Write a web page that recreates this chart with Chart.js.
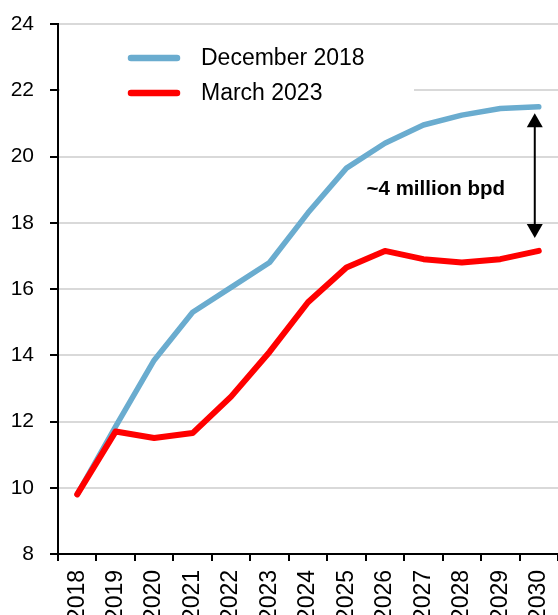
<!DOCTYPE html>
<html>
<head>
<meta charset="utf-8">
<script src="https://cdn.jsdelivr.net/npm/chart.js@4"></script>
<style>
  html, body { margin: 0; padding: 0; background: #fff; }
  #box { width: 558px; height: 615px; position: relative; }
</style>
</head>
<body>
<div id="box"><canvas id="chart"></canvas></div>
<script>
// years on the x axis
const years = ['2018', '2019', '2020', '2021', '2022', '2023', '2024',
               '2025', '2026', '2027', '2028', '2029', '2030'];

// forecast made in December 2018
const december2018 = [9.8, 11.85, 13.85, 15.3, 16.05, 16.8, 18.3,
                      19.65, 20.4, 20.95, 21.25, 21.45, 21.5];

// forecast made in March 2023
const march2023 = [9.8, 11.7, 11.5, 11.65, 12.75, 14.1, 15.6,
                   16.65, 17.15, 16.9, 16.8, 16.9, 17.15];

const yMin = 8, yMax = 24, yStep = 2;
const gapLabel = '~4 million bpd';

const FONT = "'Liberation Sans', Arial, sans-serif";

// legend drawn inside the plot, on a white patch over the grid
const insideLegend = {
  id: 'insideLegend',
  afterDraw(chart) {
    const ctx = chart.ctx;
    ctx.save();
    ctx.fillStyle = '#fff';
    ctx.fillRect(60, 40, 354, 70);
    chart.data.datasets.forEach((ds, i) => {
      const y = 58 + i * 35;
      ctx.strokeStyle = ds.borderColor;
      ctx.lineWidth = 6.5;
      ctx.lineCap = 'round';
      ctx.beginPath();
      ctx.moveTo(131, y);
      ctx.lineTo(177, y);
      ctx.stroke();
      ctx.fillStyle = '#000';
      ctx.font = '23px ' + FONT;
      ctx.textBaseline = 'middle';
      ctx.textAlign = 'left';
      ctx.fillText(ds.label, 201, y + 1);
    });
    ctx.restore();
  }
};

// double arrow showing the gap between the two forecasts in 2030
const gapArrow = {
  id: 'gapArrow',
  afterDatasetsDraw(chart) {
    const ctx = chart.ctx;
    const xs = chart.scales.x, ys = chart.scales.y;
    const last = years.length - 1;
    const x = xs.getPixelForValue(last) - 4;
    const top = ys.getPixelForValue(december2018[last]) + 6.5;
    const bot = ys.getPixelForValue(march2023[last]) - 13;
    const hw = 8, hh = 14;
    ctx.save();
    ctx.strokeStyle = '#000';
    ctx.fillStyle = '#000';
    ctx.lineWidth = 2;
    ctx.beginPath();
    ctx.moveTo(x, top + hh - 1);
    ctx.lineTo(x, bot - hh + 1);
    ctx.stroke();
    ctx.beginPath();
    ctx.moveTo(x, top);
    ctx.lineTo(x - hw, top + hh);
    ctx.lineTo(x + hw, top + hh);
    ctx.closePath();
    ctx.fill();
    ctx.beginPath();
    ctx.moveTo(x, bot);
    ctx.lineTo(x - hw, bot - hh);
    ctx.lineTo(x + hw, bot - hh);
    ctx.closePath();
    ctx.fill();

    ctx.font = 'bold 20.5px ' + FONT;
    ctx.textAlign = 'center';
    ctx.textBaseline = 'middle';
    ctx.fillText(gapLabel, x - 99, ys.getPixelForValue(19));
    ctx.restore();
  }
};

new Chart(document.getElementById('chart'), {
  type: 'line',
  data: {
    labels: years,
    datasets: [{
      label: 'December 2018',
      data: december2018,
      borderColor: '#6aaccf',
      borderWidth: 5.5,
      order: 1
    }, {
      label: 'March 2023',
      data: march2023,
      borderColor: '#ff0000',
      borderWidth: 6,
      order: 0
    }]
  },
  options: {
    responsive: true,
    maintainAspectRatio: false,
    animation: false,
    layout: { padding: { top: 24, left: 0, right: 0, bottom: 0 } },
    elements: {
      point: { radius: 0, hoverRadius: 0 },
      line: { tension: 0, borderCapStyle: 'round', borderJoinStyle: 'round' }
    },
    plugins: {
      legend: { display: false },
      tooltip: { enabled: false }
    },
    scales: {
      x: {
        offset: true,
        grid: {
          offset: true,
          drawOnChartArea: false,
          drawTicks: true,
          tickLength: 7,
          color: '#000',
          lineWidth: 2
        },
        border: { color: '#000', width: 2 },
        ticks: {
          autoSkip: false,
          minRotation: 90,
          maxRotation: 90,
          padding: 9,
          color: '#000',
          font: { family: FONT, size: 23 }
        },
        afterFit(scale) {
          scale.height = 61;
          scale.paddingLeft = 0;
          scale.paddingRight = 0;
        }
      },
      y: {
        min: yMin,
        max: yMax,
        ticks: {
          stepSize: yStep,
          padding: 16,
          color: '#000',
          font: { family: FONT, size: 21 }
        },
        grid: {
          color: ctx => (ctx.tick && ctx.tick.value === yMin) ? 'rgba(0,0,0,0)' : '#d9d9d9',
          lineWidth: 2,
          tickLength: 8,
          tickColor: '#000'
        },
        border: { color: '#000', width: 2 },
        afterFit(scale) {
          scale.width = 58;
          scale.paddingTop = 0;
          scale.paddingBottom = 0;
        }
      }
    }
  },
  plugins: [gapArrow, insideLegend]
});
</script>
</body>
</html>
